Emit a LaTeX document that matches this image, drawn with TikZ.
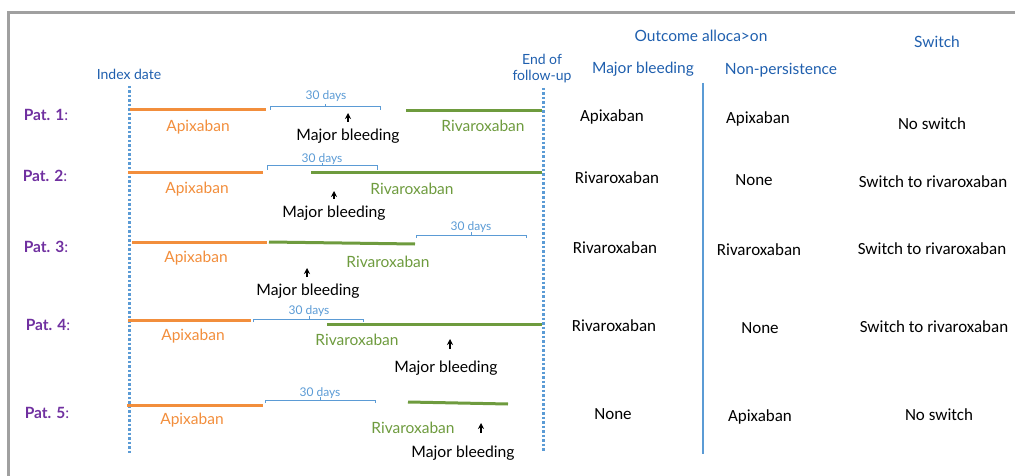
\documentclass[tikz,border=0pt]{standalone}
\usepackage{fontspec}
\setmainfont{Lato}
\newfontfamily\carl{Carlito}
\usetikzlibrary{arrows.meta}
\definecolor{orng}{HTML}{F28E3C}
\definecolor{grn}{HTML}{6E9B3E}
\definecolor{hblue}{HTML}{1F5FAE}
\definecolor{lblue}{HTML}{5B9BD5}
\definecolor{purp}{HTML}{7030A0}
\definecolor{frame}{HTML}{A0A0A0}
\tikzset{
  apx/.style={draw=orng,line width=3pt},
  riv/.style={draw=grn,line width=3pt},
  apxlab/.style={text=orng,font=\fontsize{15.5}{17}\selectfont,inner sep=0pt},
  rivlab/.style={text=grn,font=\fontsize{15.5}{17}\selectfont,inner sep=0pt},
  mblab/.style={text=black,font=\fontsize{15.7}{17}\selectfont,inner sep=0pt},
  dayslab/.style={text=lblue,font=\fontsize{12}{14}\selectfont,inner sep=0pt},
  brk/.style={draw=lblue,line width=1pt},
  evarrow/.style={draw=black,line width=1.2pt,-{Stealth[length=6pt,width=6pt]}},
  patlab/.style={text=purp,font=\fontsize{15.5}{17}\selectfont,inner sep=0pt},
  hdr/.style={text=hblue,font=\fontsize{15.5}{17}\selectfont,inner sep=0pt},
  hdrsm/.style={text=hblue,font=\fontsize{14}{16}\selectfont,inner sep=0pt,align=center},
  cell/.style={text=black,font=\carl\fontsize{17}{19}\selectfont,inner sep=0pt},
  dotline/.style={draw=lblue,line width=3pt,dash pattern=on 2.5pt off 2pt},
}
\begin{document}
\begin{tikzpicture}[x=1pt,y=-1pt]
\useasboundingbox (0,0) rectangle (1015,476);
% frame
\coordinate (frTR) at (1015,13);
\coordinate (frTL) at (8,13);
\coordinate (frBL) at (8,476);
\draw[frame,line width=3pt] (frTR) -- (frTL) -- (frBL);
% vertical lines
\coordinate (idxT) at (129,86);
\coordinate (idxB) at (129,453);
\coordinate (endT) at (543,88);
\coordinate (endB) at (543,451);
\coordinate (sepT) at (703,83);
\coordinate (sepB) at (703,454);
\draw[dotline] (idxT) -- (idxB);
\draw[dotline] (endT) -- (endB);
\draw[lblue,line width=2pt] (sepT) -- (sepB);
% headers
\node[hdrsm] (hidx) at (129,74) {Index date};
\node[hdrsm] (hend1) at (542,59) {End of};
\node[hdrsm] (hend2) at (542,77) {follow-up};
\node[hdr] (hout) at (701,36) {Outcome alloca>on};
\node[hdr] (hmb) at (643,69) {Major bleeding};
\node[hdr] (hnp) at (781,70) {Non-persistence};
\node[hdr] (hsw) at (937,42) {Switch};
% patient labels
\node[patlab] (p1) at (46,115) {\textbf{Pat. 1}:};
\node[patlab] (p2) at (45,176) {\textbf{Pat. 2}:};
\node[patlab] (p3) at (46,247) {\textbf{Pat. 3}:};
\node[patlab] (p4) at (48,325) {\textbf{Pat. 4}:};
\node[patlab] (p5) at (47,413) {\textbf{Pat. 5}:};
% ---------- Pat 1
\coordinate (a1s) at (130,110); \coordinate (a1e) at (266,110);
\draw[apx] (a1s) -- (a1e);
\node[apxlab] (a1l) at (198,127) {Apixaban};
\coordinate (b1l) at (270,110); \coordinate (b1r) at (380,110); \coordinate (b1c) at (325,107);
\draw[brk] (b1l) -- ++(0,-3) -| (b1r);
\draw[brk] (b1c) -- ++(0,-3);
\node[dayslab] (d1) at (326,96) {30 days};
\coordinate (e1s) at (348,122); \coordinate (e1e) at (348,113);
\draw[evarrow] (e1s) -- (e1e);
\node[mblab] (m1) at (348,136) {Major bleeding};
\coordinate (r1s) at (406,111); \coordinate (r1e) at (542,111);
\draw[riv] (r1s) -- (r1e);
\node[rivlab] (r1l) at (483,126) {Rivaroxaban};
\node[cell] (c11) at (612,117) {Apixaban};
\node[cell] (c12) at (758,119) {Apixaban};
\node[cell] (c13) at (932,124) {No switch};
% ---------- Pat 2
\coordinate (a2s) at (128,173); \coordinate (a2e) at (263,173);
\draw[apx] (a2s) -- (a2e);
\node[apxlab] (a2l) at (197,189) {Apixaban};
\coordinate (b2l) at (267,170); \coordinate (b2r) at (377,170); \coordinate (b2c) at (322,166);
\draw[brk] (b2l) -- ++(0,-4) -| (b2r);
\draw[brk] (b2c) -- ++(0,-3);
\node[dayslab] (d2) at (322,159) {30 days};
\coordinate (r2s) at (311,173); \coordinate (r2e) at (542,173);
\draw[riv] (r2s) -- (r2e);
\node[rivlab] (r2l) at (412,189) {Rivaroxaban};
\coordinate (e2s) at (334,199); \coordinate (e2e) at (334,191);
\draw[evarrow] (e2s) -- (e2e);
\node[mblab] (m2) at (334,213) {Major bleeding};
\node[cell] (c21) at (617,178) {Rivaroxaban};
\node[cell] (c22) at (754,180) {None};
\node[cell] (c23) at (933,182) {Switch to rivaroxaban};
% ---------- Pat 3
\coordinate (a3s) at (132,242); \coordinate (a3e) at (267,242);
\draw[apx] (a3s) -- (a3e);
\node[apxlab] (a3l) at (196,258) {Apixaban};
\coordinate (r3s) at (269,242); \coordinate (r3e) at (415,244);
\draw[riv] (r3s) -- (r3e);
\coordinate (b3l) at (416,238); \coordinate (b3r) at (526,238); \coordinate (b3c) at (471,235);
\draw[brk] (b3l) -- ++(0,-3) -| (b3r);
\draw[brk] (b3c) -- ++(0,-3);
\node[dayslab] (d3) at (471,227) {30 days};
\node[rivlab] (r3l) at (388,262) {Rivaroxaban};
\coordinate (e3s) at (307,277); \coordinate (e3e) at (307,268);
\draw[evarrow] (e3s) -- (e3e);
\node[mblab] (m3) at (308,291) {Major bleeding};
\node[cell] (c31) at (615,248) {Rivaroxaban};
\node[cell] (c32) at (759,250) {Rivaroxaban};
\node[cell] (c33) at (932,249) {Switch to rivaroxaban};
% ---------- Pat 4
\coordinate (a4s) at (128,320); \coordinate (a4e) at (251,320);
\draw[apx] (a4s) -- (a4e);
\node[apxlab] (a4l) at (193,336) {Apixaban};
\coordinate (b4l) at (253,322); \coordinate (b4r) at (363,322); \coordinate (b4c) at (309,319);
\draw[brk] (b4l) -- ++(0,-3) -| (b4r);
\draw[brk] (b4c) -- ++(0,-3);
\node[dayslab] (d4) at (309,311) {30 days};
\coordinate (r4s) at (327,324); \coordinate (r4e) at (542,324);
\draw[riv] (r4s) -- (r4e);
\node[rivlab] (r4l) at (357,340) {Rivaroxaban};
\coordinate (e4s) at (450,349); \coordinate (e4e) at (450,339);
\draw[evarrow] (e4s) -- (e4e);
\node[mblab] (m4) at (446,368) {Major bleeding};
\node[cell] (c41) at (614,326) {Rivaroxaban};
\node[cell] (c42) at (760,328) {None};
\node[cell] (c43) at (934,327) {Switch to rivaroxaban};
% ---------- Pat 5
\coordinate (a5s) at (127,405); \coordinate (a5e) at (263,405);
\draw[apx] (a5s) -- (a5e);
\node[apxlab] (a5l) at (192,420) {Apixaban};
\coordinate (b5l) at (265,403); \coordinate (b5r) at (375,403); \coordinate (b5c) at (320,400);
\draw[brk] (b5l) -- ++(0,-3) -| (b5r);
\draw[brk] (b5c) -- ++(0,-3);
\node[dayslab] (d5) at (320,393) {30 days};
\coordinate (r5s) at (408,402); \coordinate (r5e) at (508,404);
\draw[riv] (r5s) -- (r5e);
\node[rivlab] (r5l) at (413,428) {Rivaroxaban};
\coordinate (e5s) at (481,433); \coordinate (e5e) at (481,423);
\draw[evarrow] (e5s) -- (e5e);
\node[mblab] (m5) at (463,453) {Major bleeding};
\node[cell] (c51) at (613,414) {None};
\node[cell] (c52) at (760,417) {Apixaban};
\node[cell] (c53) at (939,415) {No switch};
\end{tikzpicture}
\end{document}
